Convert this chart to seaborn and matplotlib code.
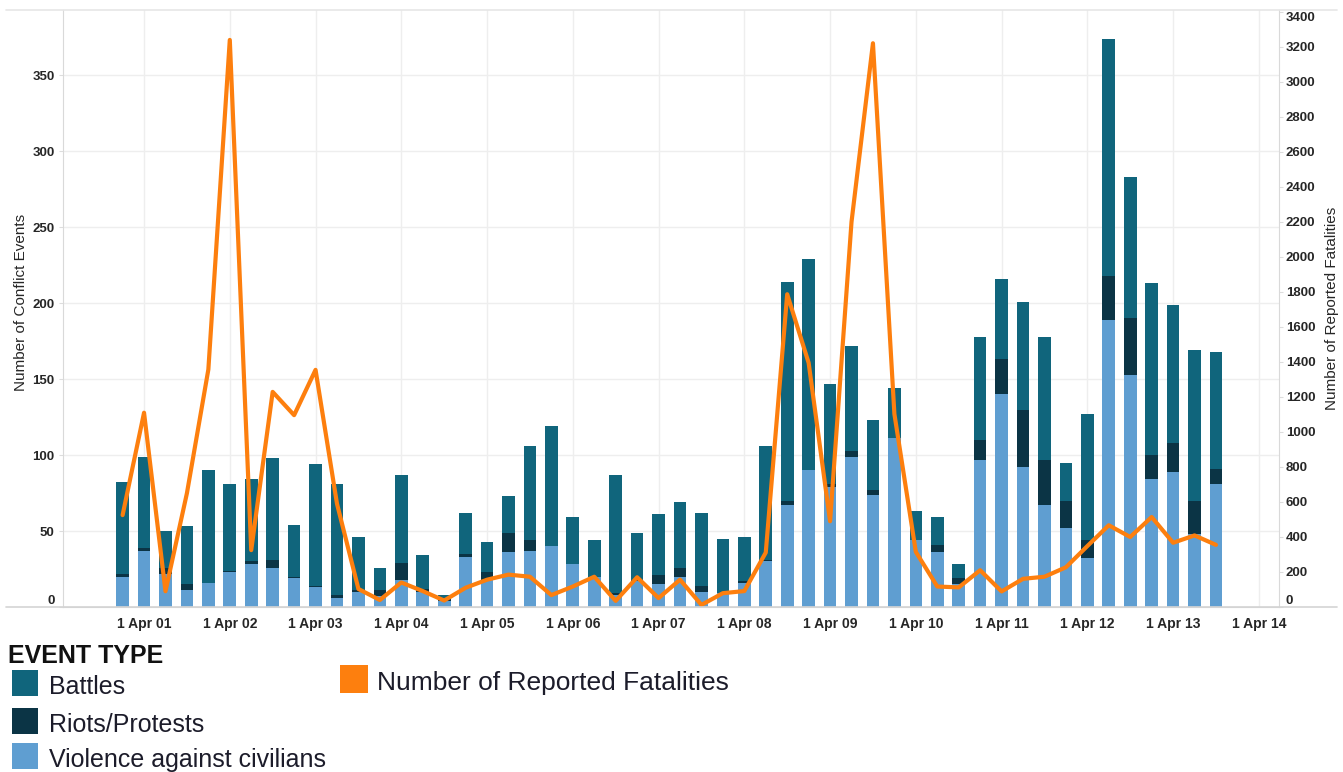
import numpy as np
import pandas as pd
import matplotlib
matplotlib.use('Agg')
import matplotlib.pyplot as plt
from matplotlib.patches import Rectangle
from matplotlib.lines import Line2D
import seaborn as sns

sns.set_style('white')
plt.rcParams['font.family'] = ['Liberation Sans', 'DejaVu Sans']

# quarterly data, Q1 2001 .. Q4 2013
quarters = [str(p) for p in pd.period_range('2001Q1', '2013Q4', freq='Q')]
tick_labels = ['1 Apr 01', '1 Apr 02', '1 Apr 03', '1 Apr 04', '1 Apr 05', '1 Apr 06', '1 Apr 07',
               '1 Apr 08', '1 Apr 09', '1 Apr 10', '1 Apr 11', '1 Apr 12', '1 Apr 13', '1 Apr 14']

violence = [20, 37, 22, 11, 16, 23, 28, 26, 19, 13, 6, 10, 7, 18, 10, 4,
            33, 18, 36, 37, 40, 28, 20, 8, 17, 15, 20, 10, 9, 16, 30, 67,
            90, 79, 99, 74, 111, 44, 36, 15, 97, 140, 92, 67, 52, 32, 189, 153,
            84, 89, 48, 81]
riots = [2, 2, 4, 4, 0, 1, 2, 5, 1, 1, 2, 1, 4, 11, 2, 1,
         2, 5, 13, 7, 0, 0, 0, 1, 1, 6, 6, 4, 0, 1, 1, 3,
         0, 2, 4, 3, 0, 0, 5, 4, 13, 23, 38, 30, 18, 12, 29, 37,
         16, 19, 22, 10]
battles = [60, 60, 24, 38, 74, 57, 54, 67, 34, 80, 73, 35, 15, 58, 22, 3,
           27, 20, 24, 62, 79, 31, 24, 78, 31, 40, 43, 48, 36, 29, 75, 144,
           139, 66, 69, 46, 33, 19, 18, 9, 68, 53, 71, 81, 25, 83, 156, 93,
           113, 91, 99, 77]
fatalities = [525, 1110, 90, 650, 1357, 3240, 325, 1229, 1096, 1355, 590, 103, 40, 140, 91, 37,
              110, 156, 185, 173, 68, 117, 173, 35, 170, 51, 156, 12, 79, 91, 311, 1787,
              1395, 490, 2200, 3221, 1103, 315, 117, 112, 210, 89, 161, 173, 227, 348, 467, 400,
              514, 367, 409, 355]

c_battles = '#10657c'
c_riots = '#0b3445'
c_vac = '#5f9ed1'
c_fat = '#fd7f0e'

df = pd.DataFrame({'quarter': quarters, 'violence': violence, 'riots': riots,
                   'battles': battles, 'fatalities': fatalities})
df['riots_top'] = df['violence'] + df['riots']
df['total'] = df['riots_top'] + df['battles']

W, H = 1343, 772
fig = plt.figure(figsize=(W / 100, H / 100), dpi=100)
ax = fig.add_axes([63 / W, 1 - 607 / H, (1279 - 63) / W, (607 - 10) / H])

# stacked bars: draw cumulative heights back to front
for col, color in [('total', c_battles), ('riots_top', c_riots), ('violence', c_vac)]:
    sns.barplot(data=df, x='quarter', y=col, order=quarters, color=color, saturation=1,
                width=0.59, linewidth=0, errorbar=None, ax=ax)

ax2 = ax.twinx()
sns.lineplot(x=np.arange(len(quarters)), y=df['fatalities'], color=c_fat, lw=3, ax=ax2)

ax.set_xlim(-2.78, 53.94)
ax.set_ylim(0, 393)
ax2.set_ylim(0, 3411)

ax.set_xticks(np.arange(1, 54, 4))
ax.set_xticklabels(tick_labels, fontweight='bold', fontsize=10)
ax.set_xticks(np.arange(-2, 54), minor=True)
ax.set_yticks(range(0, 351, 50))
ax.set_yticklabels([str(v) for v in range(0, 351, 50)], fontweight='bold', fontsize=9.5)
ax2.set_yticks(range(0, 3401, 200))
ax2.set_yticklabels([str(v) for v in range(0, 3401, 200)], fontweight='bold', fontsize=9.5)

ax.tick_params(axis='x', which='both', length=4, color='#cccccc', width=1, pad=3)
ax.tick_params(axis='y', length=3, color='#dddddd', pad=3)
ax2.tick_params(axis='y', length=3, color='#dddddd', pad=2)

# edge labels pushed inside like the original
ax.yaxis.get_major_ticks()[0].label1.set_va('bottom')
ax2.yaxis.get_major_ticks()[0].label2.set_va('bottom')
ax2.yaxis.get_major_ticks()[-1].label2.set_va('top')

ax.grid(True, which='major', color='#eeeeee', lw=1)
ax.set_axisbelow(True)

ax.set_xlabel('')
ax.set_ylabel('Number of Conflict Events', fontsize=11)
ax.yaxis.set_label_coords(-0.029, 0.51)
ax2.set_ylabel('Number of Reported Fatalities', fontsize=11)
ax2.yaxis.set_label_coords(1.0378, 0.5)

for s in ['top', 'right']:
    ax.spines[s].set_visible(False)
ax.spines['left'].set_color('#d9d9d9')
ax.spines['bottom'].set_color('#d4d4d4')
for s in ['top', 'left', 'bottom']:
    ax2.spines[s].set_visible(False)
ax2.spines['right'].set_color('#d9d9d9')

fig.add_artist(Line2D([6 / W, 1337 / W], [1 - 10 / H] * 2, color='#e6e6e6', lw=1.2))
fig.add_artist(Line2D([6 / W, 1337 / W], [1 - 607 / H] * 2, color='#d4d4d4', lw=1.2))

# legend
def square(x0, y0, x1, y1, color):
    fig.add_artist(Rectangle((x0 / W, 1 - y1 / H), (x1 - x0) / W, (y1 - y0) / H,
                             transform=fig.transFigure, color=color, lw=0))

fig.text(8 / W, 1 - 663 / H, 'EVENT TYPE', fontsize=18, fontweight='bold', va='baseline', color='#111111')
for label, color, y0 in [('Battles', c_battles, 670), ('Riots/Protests', c_riots, 708),
                         ('Violence against civilians', c_vac, 743)]:
    square(12, y0, 38, y0 + 26, color)
    fig.text(49 / W, 1 - (y0 + 24) / H, label, fontsize=18, va='baseline', color='#1c1c2a')
square(340, 665, 368, 693, c_fat)
fig.text(377 / W, 1 - 690 / H, 'Number of Reported Fatalities', fontsize=19, va='baseline', color='#1c1c2a')

fig.savefig('out.png', dpi=100)
